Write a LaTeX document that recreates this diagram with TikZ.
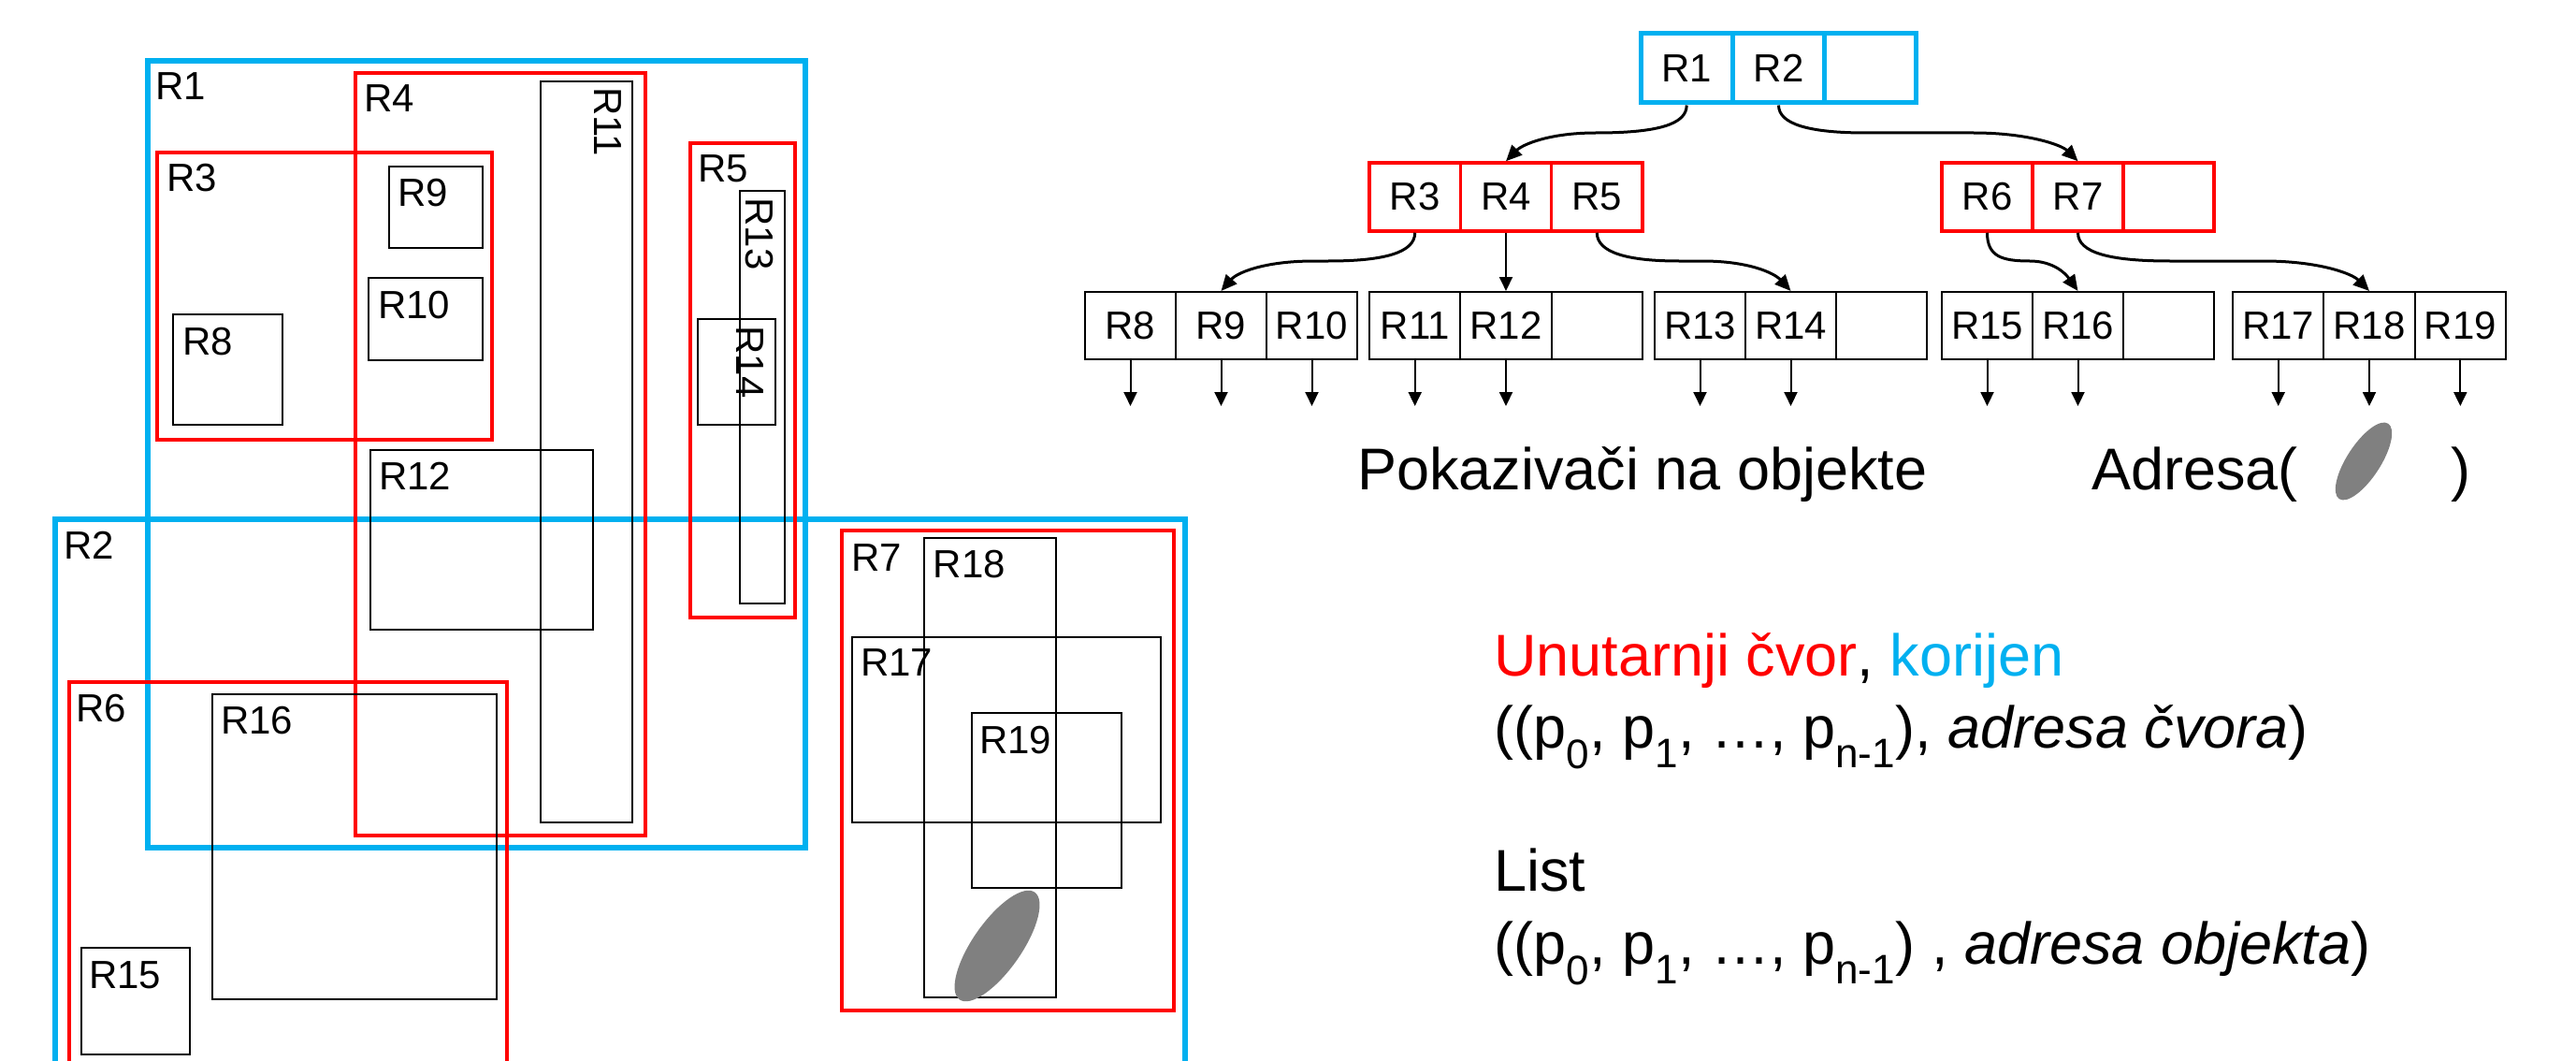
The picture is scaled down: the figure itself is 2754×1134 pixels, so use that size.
\documentclass[tikz,border=0pt]{standalone}
\usepackage{fontspec}
\setmainfont{Liberation Sans}
\usetikzlibrary{arrows.meta}
\definecolor{cblue}{RGB}{0,176,240}
\definecolor{cred}{RGB}{255,0,0}
\definecolor{cgray}{RGB}{128,128,128}
\tikzset{
 lbl/.style={font=\fontsize{42}{50}\selectfont, inner sep=0pt, anchor=base west},
 rlbl/.style={font=\fontsize{42}{50}\selectfont, inner sep=0pt, rotate=-90},
 bluebox/.style={draw=cblue, line width=5.5pt},
 redbox/.style={draw=cred, line width=3.5pt},
 blkbox/.style={draw=black, line width=2pt},
 cell/.style={draw, minimum width=97.3pt, minimum height=73pt, inner sep=0pt, font=\fontsize{42}{50}\selectfont},
 rootcell/.style={cell, draw=cblue, line width=5pt, minimum width=98.3pt, minimum height=74pt},
 redcell/.style={cell, draw=cred, line width=3.5pt},
 leafcell/.style={cell, line width=2pt, minimum height=72pt},
 ptr/.style={-{Triangle[length=15pt,width=14pt]}, line width=2pt},
 curvecon/.style={-{Triangle[length=17pt,width=15pt]}, line width=3pt},
 big/.style={font=\fontsize{63}{76}\selectfont, inner sep=0pt, anchor=base west},
}
\begin{document}
\begin{tikzpicture}[x=1pt,y=-1pt]
\useasboundingbox (0,0) rectangle (2754,1134);
\clip (0,0) rectangle (2754,1134);
% ---------- left: rectangles ----------
\draw[bluebox] (158,65) rectangle (861,906);
\draw[bluebox] (59,555) rectangle (1267,1200);
\draw[redbox] (168,163) rectangle (526,470);
\draw[redbox] (380,78) rectangle (690,893);
\draw[redbox] (738,153) rectangle (850,660);
\draw[redbox] (74,729) rectangle (542,1200);
\draw[redbox] (900,567) rectangle (1255,1080);
\draw[blkbox] (185,336) rectangle (302,454);
\draw[blkbox] (416,178) rectangle (516,264.5);
\draw[blkbox] (394,297) rectangle (516,385);
\draw[blkbox] (578,87) rectangle (676,879);
\draw[blkbox] (395.5,481) rectangle (634,673);
\draw[blkbox] (790.5,204) rectangle (839,645);
\draw[blkbox] (746,341) rectangle (829,454);
\draw[blkbox] (87,1013) rectangle (203,1127);
\draw[blkbox] (227,742) rectangle (531,1068);
\draw[blkbox] (911,680.5) rectangle (1241,879);
\draw[blkbox] (988,575) rectangle (1129,1066);
\draw[blkbox] (1039,762) rectangle (1199,949);
\fill[cgray, rotate around={55:(1066,1011)}] (1066,1011) ellipse [x radius=70, y radius=26];
% labels
\node[lbl] (lR1) at (166,107) {R1};
\node[lbl] (lR2) at (68,597) {R2};
\node[lbl] (lR3) at (178,205) {R3};
\node[lbl] (lR4) at (389,120) {R4};
\node[lbl] (lR5) at (746,195) {R5};
\node[lbl] (lR6) at (81,771) {R6};
\node[lbl] (lR7) at (910,610) {R7};
\node[lbl] (lR8) at (195,379) {R8};
\node[lbl] (lR9) at (425,220) {R9};
\node[lbl] (lR10) at (404,340) {R10};
\node[rlbl] (lR11) at (650,130) {R11};
\node[lbl] (lR12) at (405,523.5) {R12};
\node[rlbl] (lR13) at (812,250) {R13};
\node[rlbl] (lR14) at (802,387) {R14};
\node[lbl] (lR15) at (95,1056) {R15};
\node[lbl] (lR16) at (236,784) {R16};
\node[lbl] (lR17) at (920,722.6) {R17};
\node[lbl] (lR18) at (997.5,617.6) {R18};
\node[lbl] (lR19) at (1047,805) {R19};
% ---------- right: tree ----------
\node[rootcell] (n1) at (1803.2,73) {R1};
\node[rootcell] (n2) at (1901.5,73) {R2};
\node[rootcell] (e0) at (1999.8,73) {};
\node[redcell] (n3) at (1512.7,210.5) {R3};
\node[redcell] (n4) at (1610,210.5) {R4};
\node[redcell] (n5) at (1707.3,210.5) {R5};
\node[redcell] (n6) at (2124.5,210.5) {R6};
\node[redcell] (n7) at (2221.5,210.5) {R7};
\node[redcell] (e1) at (2318.5,210.5) {};
\node[leafcell] (n8) at (1208.5,348) {R8};
\node[leafcell] (n9) at (1305.5,348) {R9};
\node[leafcell] (n10) at (1402.5,348) {R10};
\node[leafcell] (n11) at (1512.7,348) {R11};
\node[leafcell] (n12) at (1610,348) {R12};
\node[leafcell] (eB) at (1707.3,348) {};
\node[leafcell] (n13) at (1817.5,348) {R13};
\node[leafcell] (n14) at (1914.5,348) {R14};
\node[leafcell] (eC) at (2011.5,348) {};
\node[leafcell] (n15) at (2124.5,348) {R15};
\node[leafcell] (n16) at (2221.5,348) {R16};
\node[leafcell] (eD) at (2318.5,348) {};
\node[leafcell] (n17) at (2435.7,348) {R17};
\node[leafcell] (n18) at (2533,348) {R18};
\node[leafcell] (n19) at (2630.3,348) {R19};
% connectors
\draw[curvecon] (n1.south) .. controls (1803.2,133) and (1772,142) .. (1706,142)
  .. controls (1655,142) and (1627,155) .. (n4.north);
\draw[curvecon] (n2.south) .. controls (1901.5,133) and (1935,142) .. (1995,142) -- (2110,142)
  .. controls (2168,142) and (2204,155) .. (n7.north);
\draw[curvecon] (n3.south) .. controls (1512.7,270) and (1480,279) .. (1420,279) -- (1405,279)
  .. controls (1350,279) and (1322,292) .. (n9.north);
\draw[ptr] (n4.south) -- (n12.north);
\draw[curvecon] (n5.south) .. controls (1707.3,270) and (1740,279) .. (1795,279) -- (1820,279)
  .. controls (1870,279) and (1897,292) .. (n14.north);
\draw[curvecon] (n6.south) .. controls (2124.5,274) and (2140,279) .. (2170,279)
  .. controls (2195,279) and (2208,292) .. (n16.north);
\draw[curvecon] (n7.south) .. controls (2221.5,270) and (2255,279) .. (2320,279) -- (2420,279)
  .. controls (2478,279) and (2514,292) .. (n18.north);
\foreach \c in {n8,n9,n10,n11,n12,n13,n14,n15,n16,n17,n18,n19}{
  \path (\c.south) ++(0,49) coordinate (\c p);
  \draw[ptr] (\c.south) -- (\c p);
}
% ---------- texts ----------
\node[big] (pok) at (1451,523) {Pokazivači na objekte};
\node[big] (adr) at (2236,523) {Adresa(};
\node[big] (adrc) at (2620,523) {)};
\fill[cgray, rotate around={57:(2527,493)}] (2527,493) ellipse [x radius=48, y radius=18];
\node[big] (int) at (1597,722.7) {\textcolor{cred}{Unutarnji čvor}, \textcolor{cblue}{korijen}};
\node[big] (int2) at (1597,799) {((p\textsubscript{0}, p\textsubscript{1}, …, p\textsubscript{n-1}), \textit{adresa čvora})};
\node[big] (lst) at (1597,952) {List};
\node[big] (lst2) at (1597,1030) {((p\textsubscript{0}, p\textsubscript{1}, …, p\textsubscript{n-1}) , \textit{adresa objekta})};
\end{tikzpicture}
\end{document}
